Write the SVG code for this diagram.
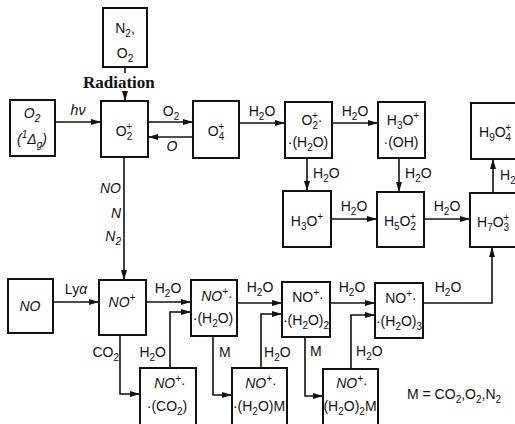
<svg xmlns="http://www.w3.org/2000/svg" width="515" height="424" viewBox="0 0 515 424">
<defs>
<marker id="ah" viewBox="0 0 10 6" refX="10" refY="3" markerWidth="10" markerHeight="6" markerUnits="userSpaceOnUse" orient="auto">
<path d="M0,0 L10,3 L0,6 Z" fill="#111"/>
</marker>
<style>
.bx{fill:#fff;stroke:#111;stroke-width:2}
.ln{fill:none;stroke:#111;stroke-width:1.6}
.ar{fill:none;stroke:#111;stroke-width:1.6;marker-end:url(#ah)}
text{font-family:"Liberation Sans","DejaVu Sans",sans-serif;font-size:14px;fill:#111}
.c{text-anchor:middle}
.e{text-anchor:end}
.i{font-style:italic}
.sb{font-size:10px;baseline-shift:-4px}
.sp{font-size:10px;baseline-shift:6px}
.rad{font-family:"Liberation Serif",serif;font-weight:bold;font-size:17px}
</style>
</defs>
<rect width="515" height="424" fill="#fff"/>
<g id="connectors">
<line class="ln" x1="125" y1="67" x2="125" y2="73"/>
<line class="ar" x1="125" y1="91" x2="125" y2="101"/>
<line class="ar" x1="55" y1="122" x2="101" y2="122"/>
<line class="ar" x1="148" y1="122" x2="193" y2="122"/>
<line class="ar" x1="193" y1="137" x2="148" y2="137"/>
<line class="ar" x1="239" y1="123" x2="285" y2="123"/>
<line class="ar" x1="332" y1="123" x2="378" y2="123"/>
<line class="ar" x1="307" y1="158" x2="307" y2="191"/>
<line class="ar" x1="399" y1="158" x2="399" y2="192"/>
<line class="ar" x1="331" y1="219" x2="377" y2="219"/>
<line class="ar" x1="424" y1="219" x2="470" y2="219"/>
<line class="ar" x1="493" y1="193" x2="493" y2="159"/>
<line class="ar" x1="124" y1="157" x2="124" y2="280"/>
<line class="ar" x1="53" y1="302" x2="99" y2="302"/>
<line class="ar" x1="146" y1="302" x2="191" y2="302"/>
<line class="ar" x1="237" y1="303" x2="282" y2="303"/>
<line class="ar" x1="330" y1="303" x2="375" y2="303"/>
<polyline class="ar" points="423,303 492,303 492,247"/>
<polyline class="ar" points="120,335 120,394 140,394"/>
<polyline class="ar" points="170,368 170,312 191,312"/>
<polyline class="ar" points="213,336 213,395 232,395"/>
<polyline class="ar" points="261,368 261,314 282,314"/>
<polyline class="ar" points="305,337 305,396 323,396"/>
<polyline class="ar" points="351,369 351,315 375,315"/>
<text class="rad" x="83" y="88">Radiation</text>
<text class="c i" x="78" y="115">hν</text>
<text class="c" x="171" y="116">O<tspan class="sb">2</tspan></text>
<text class="c i" x="172" y="151">O</text>
<text class="c" x="262" y="116">H<tspan class="sb">2</tspan>O</text>
<text class="c" x="355" y="116">H<tspan class="sb">2</tspan>O</text>
<text x="313" y="178">H<tspan class="sb">2</tspan>O</text>
<text x="405" y="178">H<tspan class="sb">2</tspan>O</text>
<text class="c" x="354" y="211">H<tspan class="sb">2</tspan>O</text>
<text class="c" x="447" y="211">H<tspan class="sb">2</tspan>O</text>
<text x="500" y="180">H<tspan class="sb">2</tspan></text>
<text class="e i" x="121" y="193">NO</text>
<text class="e i" x="121" y="218">N</text>
<text class="e i" x="121" y="241">N<tspan class="sb">2</tspan></text>
<text class="c" x="76" y="294">Ly<tspan class="i">α</tspan></text>
<text class="c" x="168" y="293">H<tspan class="sb">2</tspan>O</text>
<text class="c" x="260" y="292">H<tspan class="sb">2</tspan>O</text>
<text class="c" x="352" y="292">H<tspan class="sb">2</tspan>O</text>
<text class="c" x="448" y="292">H<tspan class="sb">2</tspan>O</text>
<text class="e" x="119" y="357">CO<tspan class="sb">2</tspan></text>
<text class="e" x="166" y="357">H<tspan class="sb">2</tspan>O</text>
<text x="219" y="357">M</text>
<text x="264" y="357">H<tspan class="sb">2</tspan>O</text>
<text x="310" y="356">M</text>
<text x="356" y="356">H<tspan class="sb">2</tspan>O</text>
<text x="407" y="399">M = CO<tspan class="sb">2</tspan>,O<tspan class="sb">2</tspan>,N<tspan class="sb">2</tspan></text>
</g>
<g id="n-n2o2"><rect class="bx" x="103" y="8" width="44" height="59"/><text class="c" x="125" y="33">N<tspan class="sb">2</tspan>,</text><text class="c" x="125" y="58">O<tspan class="sb">2</tspan></text></g>
<g id="n-o2d"><rect class="bx" x="10" y="100" width="45" height="56"/><text class="c i" x="32" y="118">O<tspan class="sb">2</tspan></text><text class="c i" x="32" y="144">(<tspan class="sp">1</tspan>Δ<tspan class="sb">g</tspan>)</text></g>
<g id="n-o2p"><rect class="bx" x="101" y="101" width="47" height="56"/><text class="c" x="124" y="136">O<tspan class="sb">2</tspan><tspan class="sp" dx="-6">+</tspan></text></g>
<g id="n-o4p"><rect class="bx" x="193" y="101" width="46" height="57"/><text class="c" x="216" y="136">O<tspan class="sb">4</tspan><tspan class="sp" dx="-6">+</tspan></text></g>
<g id="n-o2h2o"><rect class="bx" x="285" y="102" width="47" height="56"/><text class="c" x="312" y="125">O<tspan class="sb">2</tspan><tspan class="sp" dx="-6">+</tspan>·</text><text class="c" x="308" y="147">·(H<tspan class="sb">2</tspan>O)</text></g>
<g id="n-h3ooh"><rect class="bx" x="378" y="102" width="47" height="56"/><text class="c" x="403" y="125">H<tspan class="sb">3</tspan>O<tspan class="sp">+</tspan></text><text class="c" x="401" y="147">·(OH)</text></g>
<g id="n-h9o4"><rect class="bx" x="471" y="103" width="52" height="56"/><text x="479" y="137">H<tspan class="sb">9</tspan>O<tspan class="sb">4</tspan><tspan class="sp" dx="-6">+</tspan></text></g>
<g id="n-h3o"><rect class="bx" x="283" y="191" width="48" height="56"/><text class="c" x="307" y="226">H<tspan class="sb">3</tspan>O<tspan class="sp">+</tspan></text></g>
<g id="n-h5o2"><rect class="bx" x="377" y="192" width="47" height="55"/><text class="c" x="400" y="226">H<tspan class="sb">5</tspan>O<tspan class="sb">2</tspan><tspan class="sp" dx="-6">+</tspan></text></g>
<g id="n-h7o3"><rect class="bx" x="470" y="193" width="53" height="54"/><text x="477" y="227">H<tspan class="sb">7</tspan>O<tspan class="sb">3</tspan><tspan class="sp" dx="-6">+</tspan></text></g>
<g id="n-no"><rect class="bx" x="8" y="279" width="45" height="54"/><text class="c i" x="30" y="311">NO</text></g>
<g id="n-nop"><rect class="bx" x="99" y="280" width="47" height="55"/><text class="c i" x="122" y="307">NO<tspan class="sp">+</tspan></text></g>
<g id="n-noh2o"><rect class="bx" x="191" y="280" width="46" height="56"/><text class="c i" x="217" y="301">NO<tspan class="sp">+</tspan>·</text><text class="c" x="213" y="323">·(H<tspan class="sb">2</tspan>O)</text></g>
<g id="n-noh2o2"><rect class="bx" x="282" y="282" width="48" height="55"/><text class="c" x="308" y="302">NO<tspan class="sp">+</tspan>·</text><text class="c" x="306" y="325">·(H<tspan class="sb">2</tspan>O)<tspan class="sb">2</tspan></text></g>
<g id="n-noh2o3"><rect class="bx" x="375" y="283" width="48" height="55"/><text class="c" x="401" y="303">NO<tspan class="sp">+</tspan>·</text><text class="c" x="399" y="326">·(H<tspan class="sb">2</tspan>O)<tspan class="sb">3</tspan></text></g>
<g id="n-noco2"><rect class="bx" x="140" y="368" width="56" height="60"/><text class="c i" x="170" y="388">NO<tspan class="sp">+</tspan>·</text><text class="c" x="167" y="411">·(CO<tspan class="sb">2</tspan>)</text></g>
<g id="n-noh2om"><rect class="bx" x="232" y="368" width="55" height="60"/><text class="c i" x="261" y="388">NO<tspan class="sp">+</tspan>·</text><text class="c" x="259" y="411">·(H<tspan class="sb">2</tspan>O)M</text></g>
<g id="n-noh2o2m"><rect class="bx" x="323" y="369" width="55" height="60"/><text class="c i" x="352" y="388">NO<tspan class="sp">+</tspan>·</text><text class="c" x="350" y="411">(H<tspan class="sb">2</tspan>O)<tspan class="sb">2</tspan>M</text></g>
</svg>
